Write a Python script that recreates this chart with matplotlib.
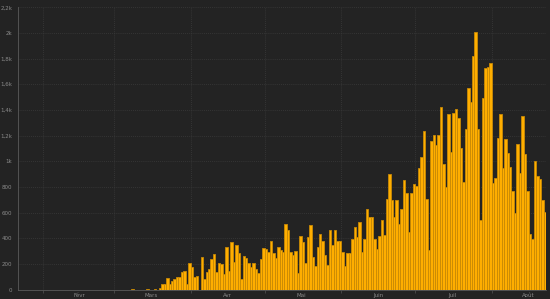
import numpy as np
import pandas as pd
import matplotlib
matplotlib.use("Agg")
import matplotlib.pyplot as plt
import matplotlib.dates as mdates
from matplotlib.ticker import FixedLocator, FuncFormatter

# daily new cases, 22 Jan 2020 -> 22 Aug 2020
start = "2020-01-22"
cases_early = [0] * 46 + [2, 0, 0, 0, 0, 0, 6, 0, 0, 4, 0]  # 22 Jan - 18 Mar
cases_mar_apr = [14, 40, 40, 92, 45, 69, 82, 95, 95, 139, 142, 40, 209, 173, 100,
                 108, 0, 256, 82, 135, 157, 238, 274, 139, 209, 199, 121, 329, 144, 373]
cases_apr_may = [212, 347, 287, 82, 258, 245, 204, 178, 209, 160, 126, 238, 321, 316,
                 292, 375, 284, 245, 329, 308, 290, 511, 467, 292, 266, 300, 126, 417,
                 370, 209, 412, 500, 256, 183, 334, 436, 381, 271, 194, 464, 347, 464]
cases_may_jun = [381, 381, 295, 183, 287, 282, 391, 490, 407, 528, 290, 394, 630, 568,
                 565, 391, 313, 417, 542, 427, 708, 898, 698, 565, 698, 511, 625, 853]
cases_jun_jul = [755, 446, 750, 820, 809, 950, 1035, 1238, 703, 308, 1157, 1204, 1126,
                 1204, 1420, 976, 801, 1366, 1069, 1373, 1404, 1334, 1100, 840, 1248,
                 1568, 1464, 1820]
cases_jul_aug = [2009, 1248, 542, 1490, 1729, 1732, 1763, 832, 871, 1178, 1366, 950,
                 1171, 1066, 952, 768, 594, 1132, 910, 1352, 1056, 768, 430, 391, 1002,
                 885, 859, 698, 604]

cases = cases_early + cases_mar_apr + cases_apr_may + cases_may_jun + cases_jun_jul + cases_jul_aug
dates = pd.date_range(start, periods=len(cases), freq="D")

month_names = ["Févr", "Mars", "Avr", "Mai", "Juin", "Juil", "Août"]
month_starts = pd.date_range("2020-02-01", "2020-08-01", freq="MS")
label_pos = month_starts + pd.Timedelta(days=15)

y_ticks = [0, 200, 400, 600, 800, 1000, 1200, 1400, 1600, 1800, 2000, 2200]

bg = "#232323"
fig = plt.figure(figsize=(5.5, 2.99), dpi=100, facecolor=bg)
ax = fig.add_axes([18 / 550, 9.5 / 299, 528 / 550, 282.2 / 299], facecolor=bg)

ax.bar(dates, cases, width=1, align="edge", color="#FFAE00", edgecolor="#C98A05", linewidth=0.6, zorder=3)

ax.set_xlim(dates[0], dates[-1] + pd.Timedelta(days=1))
ax.set_ylim(0, 2200)

# grid
ax.xaxis.set_minor_locator(FixedLocator(mdates.date2num(month_starts)))
ax.xaxis.set_major_locator(FixedLocator(mdates.date2num(label_pos)))
ax.set_xticklabels(month_names)
ax.yaxis.set_major_locator(FixedLocator(y_ticks))


def fmt(v, pos):
    if v >= 1000:
        s = ("%g" % (v / 1000)).replace(".", ",")
        return s + "k"
    return "%d" % v


ax.yaxis.set_major_formatter(FuncFormatter(fmt))
ax.grid(axis="y", which="major", color="#3b3b3b", linestyle=(0, (1, 1.5)), linewidth=0.6, zorder=0)
ax.grid(axis="x", which="minor", color="#3b3b3b", linestyle=(0, (1, 1.5)), linewidth=0.6, zorder=0)

ax.tick_params(axis="x", which="major", length=0, labelsize=4, labelcolor="#8a8a8a", pad=2.5)
ax.tick_params(axis="x", which="minor", length=2, color="#555555", width=0.5)
ax.tick_params(axis="y", length=0, labelsize=4, labelcolor="#8a8a8a", pad=4)

for side in ["top", "right"]:
    ax.spines[side].set_visible(False)
ax.spines["left"].set_color("#5a5a5a")
ax.spines["left"].set_linewidth(0.6)
ax.spines["bottom"].set_color("#5a5a5a")
ax.spines["bottom"].set_linewidth(0.6)

fig.savefig("out.png", dpi=100, facecolor=bg)
